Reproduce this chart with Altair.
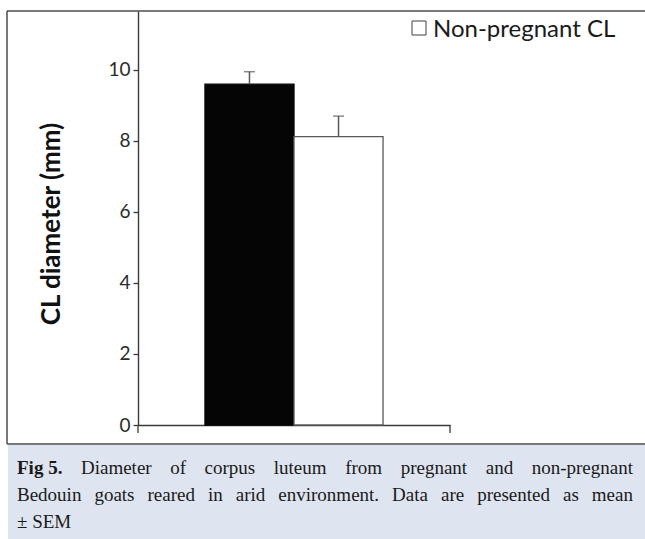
import altair as alt
import pandas as pd

# ---- data -------------------------------------------------------------
group = ["Bedouin goats"]
status = ["Pregnant CL", "Non-pregnant CL"]
mean_mm = [9.60, 8.12]
sem_mm = [0.35, 0.58]
y_ticks = [0, 2, 4, 6, 8, 10]
y_max = 11.66

caption_lines = [
    [("Fig 5.", "bold"), ("Diameter", "normal"), ("of", "normal"), ("corpus", "normal"),
     ("luteum", "normal"), ("from", "normal"), ("pregnant", "normal"), ("and", "normal"),
     ("non-pregnant", "normal")],
    [("Bedouin", "normal"), ("goats", "normal"), ("reared", "normal"), ("in", "normal"),
     ("arid", "normal"), ("environment.", "normal"), ("Data", "normal"), ("are", "normal"),
     ("presented", "normal"), ("as", "normal"), ("mean", "normal")],
    [("\u00b1 SEM", "normal")],
]

# ---- layout (pixels) ----------------------------------------------------
W, H = 312, 414                 # plot area
PAD = {"left": 138, "top": 11, "right": 195, "bottom": 114}
SANS = "Lato"
SERIF = "Liberation Serif"
AXIS_GREY = "#3a3a3a"
LINE_GREY = "#595959"

df = pd.DataFrame({
    "group": group * len(status),
    "status": status,
    "mean": mean_mm,
    "upper": [m + s for m, s in zip(mean_mm, sem_mm)],
})
one = pd.DataFrame({"k": [0]})

x_enc = alt.X("group:N", scale=alt.Scale(paddingInner=0, paddingOuter=0.376),
              axis=alt.Axis(labels=False, ticks=False, title=None, domainColor=AXIS_GREY,
                            domainWidth=1.4, grid=False))
xo_enc = alt.XOffset("status:N", sort=status, scale=alt.Scale(paddingInner=0, paddingOuter=0))
y_scale = alt.Scale(domain=[0, y_max], nice=False, zero=True)

bars = alt.Chart(df).mark_bar(strokeWidth=1.3).encode(
    x=x_enc,
    xOffset=xo_enc,
    y=alt.Y("mean:Q", scale=y_scale,
            axis=alt.Axis(values=y_ticks, title=None, grid=False, domainColor=AXIS_GREY,
                          domainWidth=1.4, tickColor=AXIS_GREY, tickWidth=1.3, tickSize=5,
                          labelFont=SANS, labelFontSize=19, labelColor="#2b2b2b",
                          labelPadding=3)),
    fill=alt.Fill("status:N", sort=status,
                  scale=alt.Scale(domain=status, range=["#050505", "#ffffff"]), legend=None),
    stroke=alt.Stroke("status:N", sort=status,
                      scale=alt.Scale(domain=status, range=["#050505", LINE_GREY]), legend=None),
)

err = alt.Chart(df).mark_rule(color=LINE_GREY, strokeWidth=1.5).encode(
    x="group:N", xOffset=alt.XOffset("status:N", sort=status), y="mean:Q", y2="upper:Q")
caps = alt.Chart(df).mark_tick(color=LINE_GREY, thickness=1.5, size=11).encode(
    x="group:N", xOffset=alt.XOffset("status:N", sort=status), y="upper:Q")

# axis end ticks below the category axis
end_ticks = alt.Chart(pd.DataFrame({"xp": [0, W]})).mark_rule(
    color=AXIS_GREY, strokeWidth=1.3).encode(
    x=alt.X("xp:Q", scale=None), y=alt.value(H), y2=alt.value(H + 8))

# figure frame and caption panel
frame_rules = alt.Chart(pd.DataFrame({
    "x1": [-131, -131, -131], "x2": [507, -131, 507],
    "y1": [0, 0, 433], "y2": [0, 433, 433],
})).mark_rule(color="#4d4d4d", strokeWidth=1.5).encode(
    x=alt.X("x1:Q", scale=None), x2="x2:Q", y=alt.Y("y1:Q", scale=None), y2="y2:Q")

caption_bg = alt.Chart(one).mark_rect(color="#dfe5f0").encode(
    x=alt.value(-130), x2=alt.value(507), y=alt.value(434), y2=alt.value(528))

# legend entry
legend_box = alt.Chart(one).mark_rect(fill="#ffffff", stroke="#404040", strokeWidth=1).encode(
    x=alt.value(274), x2=alt.value(288), y=alt.value(10), y2=alt.value(24))
legend_text = alt.Chart(one).mark_text(
    font=SANS, fontSize=24, color="#1a1a1a", align="left", baseline="alphabetic",
    text=status[1]).encode(x=alt.value(295), y=alt.value(26))

# y axis title
y_title = alt.Chart(one).mark_text(
    font=SANS, fontSize=26, fontWeight="bold", color="#111111", angle=270,
    align="center", baseline="middle", text="CL diameter (mm)").encode(
    x=alt.value(-86), y=alt.value(213))

# justified caption words (Times metrics, per 1000 em)
TIMES = {" ": 250, "a": 444, "b": 500, "c": 444, "d": 500, "e": 444, "f": 333, "g": 500,
         "h": 500, "i": 278, "j": 278, "k": 500, "l": 278, "m": 778, "n": 500, "o": 500,
         "p": 500, "q": 500, "r": 333, "s": 389, "t": 278, "u": 500, "v": 500, "w": 722,
         "x": 500, "y": 500, "z": 444, "B": 667, "D": 722, "E": 611, "F": 556, "M": 889,
         "S": 556, ".": 250, "-": 333, "\u00b1": 564, "5": 500}
TIMES_BOLD = {"F": 611, "i": 278, "g": 500, " ": 250, "5": 500, ".": 250}
CAP_SIZE = 19
LEFT, RIGHT = -121, 495
BASE = [463, 490, 517]


def word_width(w, weight):
    table = TIMES_BOLD if weight == "bold" else TIMES
    return sum(table.get(c, 500) for c in w) * CAP_SIZE / 1000


rows = []
for i, line in enumerate(caption_lines):
    widths = [word_width(w, wt) for w, wt in line]
    if len(line) > 1 and i < len(caption_lines) - 1:
        gap = (RIGHT - LEFT - sum(widths)) / (len(line) - 1)
    else:
        gap = 0.25 * CAP_SIZE
    xpos = LEFT
    for (w, wt), wd in zip(line, widths):
        rows.append({"word": w, "weight": wt, "xp": xpos, "yp": BASE[i]})
        xpos += wd + gap
words = pd.DataFrame(rows)

cap_regular = alt.Chart(words).transform_filter("datum.weight == 'normal'").mark_text(
    font=SERIF, fontSize=CAP_SIZE, color="#1a1a1a", align="left", baseline="alphabetic").encode(
    x=alt.X("xp:Q", scale=None), y=alt.Y("yp:Q", scale=None), text="word:N")
cap_bold = alt.Chart(words).transform_filter("datum.weight == 'bold'").mark_text(
    font=SERIF, fontSize=CAP_SIZE, fontWeight="bold", color="#1a1a1a", align="left",
    baseline="alphabetic").encode(
    x=alt.X("xp:Q", scale=None), y=alt.Y("yp:Q", scale=None), text="word:N")

chart = alt.layer(
    caption_bg, frame_rules, bars, err, caps, end_ticks, legend_box, legend_text, y_title,
    cap_regular, cap_bold,
).resolve_scale(x="shared").properties(
    width=W, height=H, padding=PAD, autosize=alt.AutoSizeParams(type="none"),
    background="#ffffff",
).configure_view(stroke=None)

chart.save("out.html", embed_options={"renderer": "svg", "actions": False})
